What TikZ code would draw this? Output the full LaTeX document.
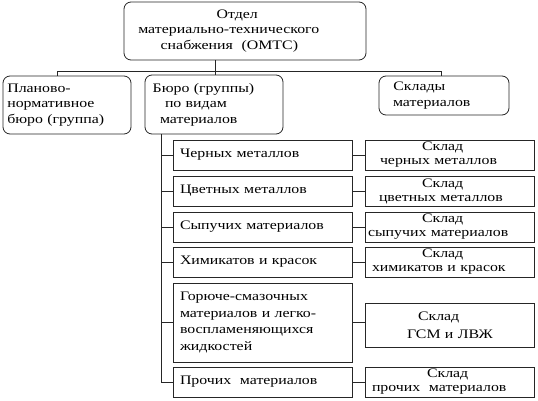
\documentclass[tikz,border=0pt]{standalone}
\usepackage{fontspec}
\setmainfont{Liberation Serif}[FakeStretch=1.22]
\tikzset{
  box/.style={draw=black!85, line width=0.8pt, inner xsep=0pt, inner ysep=0pt,
    align=left, font=\fontsize{13pt}{15.5pt}\selectfont},
  rbox/.style={box, rounded corners=7pt},
  abox/.style={box, inner xsep=7pt, text width=165pt, minimum width=179pt},
  bbox/.style={box, text width=169pt, minimum width=169pt},
  conn/.style={draw=black!85, line width=0.8pt}
}
\begin{document}
\begin{tikzpicture}[x=1pt,y=-1pt]
\useasboundingbox[fill=white] (0,0) rectangle (538,401);
% top level
\node[rbox, text width=242pt, minimum width=242pt, minimum height=58pt] (T) at (245,31)
  {\hspace*{92.7pt}Отдел\\\hspace*{14.3pt}материально-технического\\\hspace*{36.7pt}снабжения~ (ОМТС)};
\node[rbox, text width=128pt, minimum width=128pt, minimum height=58pt] (L) at (67,105)
  {\hspace*{4.3pt}Планово-\\\hspace*{4.3pt}нормативное\\\hspace*{4.3pt}бюро (группа)};
\node[rbox, text width=138pt, minimum width=138pt, minimum height=59pt] (M) at (214,104.5)
  {\hspace*{7.7pt}Бюро (группы)\\\hspace*{20pt}по видам\\\hspace*{15pt}материалов};
\node[rbox, text width=130pt, minimum width=130pt, minimum height=39pt] (R) at (444,95.5)
  {\hspace*{14.3pt}Склады\\\hspace*{14pt}материалов};
% bureau rows
\node[abox, minimum height=30pt] (A1) at (262.5,155) {Черных металлов};
\node[abox, minimum height=30pt] (A2) at (262.5,191) {Цветных металлов};
\node[abox, minimum height=30pt] (A3) at (262.5,227) {Сыпучих материалов};
\node[abox, minimum height=30pt] (A4) at (262.5,262) {Химикатов и красок};
\node[abox, minimum height=79pt, font=\fontsize{13pt}{16.7pt}\selectfont] (A5) at (262.5,322.5)
  {Горюче-смазочных\\материалов и легко-\\воспламеняющихся\\жидкостей};
\node[abox, minimum height=30pt] (A6) at (262.5,382) {Прочих~ материалов};
% warehouses
\node[bbox, minimum height=30pt, font=\fontsize{13pt}{14pt}\selectfont] (B1) at (449.5,155)
  {\hspace*{57pt}Склад\\\hspace*{15pt}черных металлов};
\node[bbox, minimum height=30pt, font=\fontsize{13pt}{14pt}\selectfont] (B2) at (449.5,191)
  {\hspace*{57pt}Склад\\\hspace*{14pt}цветных металлов};
\node[bbox, minimum height=30pt, font=\fontsize{13pt}{14pt}\selectfont] (B3) at (449.5,227)
  {\hspace*{57pt}Склад\\\hspace*{3pt}сыпучих материалов};
\node[bbox, minimum height=30pt, font=\fontsize{13pt}{14pt}\selectfont] (B4) at (449.5,262)
  {\hspace*{57pt}Склад\\\hspace*{7pt}химикатов и красок};
\node[bbox, minimum height=44pt, font=\fontsize{13pt}{18pt}\selectfont] (B5) at (449.5,325)
  {\hspace*{53pt}Склад\\\hspace*{42pt}ГСМ и ЛВЖ};
\node[bbox, minimum height=30pt, font=\fontsize{13pt}{14pt}\selectfont] (B6) at (449.5,382)
  {\hspace*{62pt}Склад\\\hspace*{7pt}прочих~ материалов};
% connectors
\coordinate (bl) at (57,71);
\coordinate (bm) at (215,71);
\coordinate (br) at (441,71);
\coordinate (sv) at (161,0);
\draw[conn] (T.south -| bm) -- (M.north -| bm);
\draw[conn] (L.north -| bl) -- (bl) -- (br) -- (R.north -| br);
\draw[conn] (M.south -| sv) -- (A6.west -| sv);
\foreach \i in {1,...,6} {\draw[conn] (A\i.west -| sv) -- (A\i.west);}
\foreach \i in {1,2,3,4,6} {\draw[conn] (A\i.east) -- (B\i.west);}
\draw[conn] (A5.east) -- (A5.east -| B5.west);
\end{tikzpicture}
\end{document}
